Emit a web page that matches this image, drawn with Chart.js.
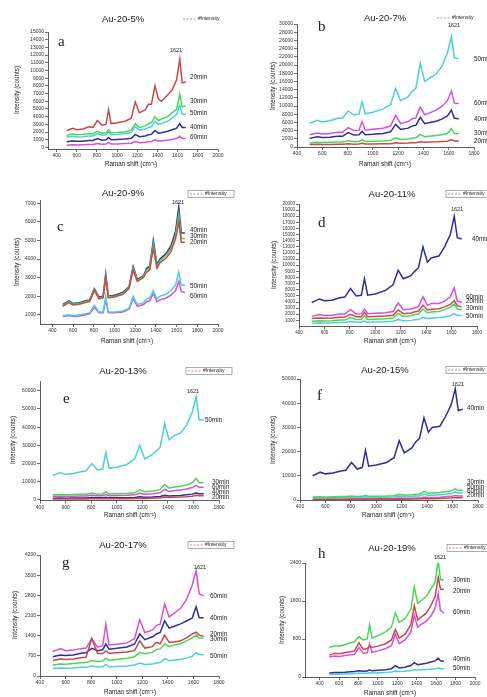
<!DOCTYPE html>
<html>
<head>
<meta charset="utf-8">
<script src="https://cdn.jsdelivr.net/npm/chart.js@4.4.1/dist/chart.umd.min.js"></script>
<style>
  body { margin: 0; background: #fff; }
  #page { position: relative; width: 487px; height: 697px; overflow: hidden; }
  #page canvas { position: absolute; }
</style>
</head>
<body>
<div id="page"></div>
<script>
// Raman shift positions shared by all spectra (cm-1)
const ramanShift = [500, 560, 600, 660, 720, 760, 805, 850, 890, 915, 940, 1000, 1080, 1140,
  1180, 1220, 1280, 1310, 1340, 1375, 1410, 1440, 1500, 1545, 1590, 1621, 1645, 1680];

const timeLabels = ["20min", "30min", "40min", "50min", "60min"];
const timeColors = ["#cc4848", "#48d858", "#2e2e9c", "#48d2da", "#d850d8"];

// a : Au-20-5%
const a20 = [2200,2500,2300,2400,2700,2600,3500,2900,3000,4900,3100,3200,3400,3800,5900,4500,4900,5600,5600,8000,6300,6000,6800,7500,8800,11500,8400,8500];
const a30 = [1600,1750,1650,1700,1780,1780,2100,1850,1900,2300,1900,1950,2050,2250,3100,2600,2800,3100,3200,4000,3500,3700,4000,4500,5000,6900,5300,5400];
const a40 = [750,850,800,820,900,900,1150,950,1000,1300,1000,1050,1100,1200,1700,1400,1500,1650,1700,2200,1850,1900,2100,2300,2500,3100,2600,2600];
const a50 = [1350,1450,1350,1400,1500,1500,1800,1600,1650,2100,1650,1700,1800,1950,2700,2250,2400,2600,2700,3400,3000,3100,3400,3800,4300,5500,4300,4300];
const a60 = [300,350,330,350,380,380,520,420,440,650,440,460,500,540,780,620,680,740,780,980,840,880,950,1050,1150,1450,1150,1150];

// b : Au-20-7%
const b20 = [600,650,620,640,660,660,800,700,720,900,720,740,780,820,1050,900,950,1020,1050,1300,1150,1200,1250,1350,1400,1800,1480,1470];
const b30 = [1050,1150,1100,1150,1200,1200,1550,1300,1350,1750,1350,1400,1450,1600,2250,1850,1950,2150,2250,3100,2500,2600,2800,3000,3300,4500,3300,3250];
const b40 = [2100,2500,2300,2400,2600,2600,3500,2900,3000,3800,3000,3100,3300,3700,5500,4300,4600,5100,5300,7200,5700,5900,6300,6800,7600,9000,7000,6900];
const b50 = [5800,6500,6100,6400,7000,7000,8800,7800,8000,11000,8100,8500,9300,10300,14300,11300,12300,13600,14300,20400,16000,16600,17800,19600,23000,27000,21800,21500];
const b60 = [3000,3400,3200,3300,3600,3600,4700,4000,4100,6200,4100,4300,4600,5100,7700,5700,6200,6900,7100,9700,7900,8200,9000,9900,11300,13700,10700,10600];

// c : Au-20-9%
const c20 = [1450,1650,1520,1560,1650,1700,2300,1850,1900,3000,1900,1950,2100,2400,3400,2800,3000,3300,3400,4600,3500,3800,4050,4400,5100,6000,4900,4900];
const c30 = [1500,1700,1560,1600,1700,1750,2350,1900,1950,3100,1950,2000,2150,2450,3500,2850,3050,3400,3500,4800,3600,3900,4200,4550,5300,6400,5100,5100];
const c40 = [1550,1750,1600,1650,1750,1800,2400,1950,2000,3200,2000,2050,2200,2500,3600,2900,3100,3500,3600,5000,3700,4000,4300,4700,5500,6800,5400,5400];
const c50 = [950,1000,950,1000,1050,1100,1500,1150,1150,2000,1150,1150,1200,1350,2000,1550,1650,1850,1900,2300,1850,2000,2100,2300,2600,3300,2600,2600];
const c60 = [900,950,900,930,1000,1050,1400,1100,1100,1800,1100,1100,1150,1300,1850,1450,1550,1700,1750,2150,1700,1800,1900,2050,2300,2800,2250,2200];

// d : Au-20-11%
const d20 = [1300,1400,1350,1400,1500,1500,2000,1600,1600,2300,1600,1650,1700,1850,2700,2100,2200,2400,2500,3500,2700,2800,2900,3200,3600,4200,3400,3200];
const d30 = [850,950,900,950,1050,1050,1450,1150,1150,1750,1150,1200,1250,1400,2150,1650,1750,1950,2050,2850,2250,2350,2450,2750,3150,3650,2850,2750];
const d40 = [3900,4500,4200,4300,4700,4800,6200,5000,5100,7800,5100,5300,5900,6800,9200,7800,8300,9000,9600,13000,10500,11200,11500,13000,15000,18000,14500,14300];
const d50 = [550,600,580,600,650,650,800,700,700,900,700,730,770,850,1150,950,1000,1100,1150,1450,1300,1350,1450,1600,1750,2100,1850,1800];
const d60 = [1650,1950,1800,1850,2050,2050,2750,2050,2100,2850,2100,2150,2250,2450,3850,2750,2850,3050,3250,4850,3450,3750,3750,4150,4850,6300,4150,3950];

// e : Au-20-13%
const e20 = [500,550,520,550,580,580,700,600,620,800,620,650,700,780,1000,850,950,1050,1100,1600,1350,1450,1600,1800,2100,2600,2300,2300];
const e30 = [2800,3000,2900,3000,3100,3100,3800,3200,3300,4500,3300,3400,3600,4000,5500,4500,4900,5200,5800,8500,6500,7000,7500,8200,9500,11800,9500,9500];
const e40 = [1000,1050,1000,1050,1100,1100,1300,1150,1150,1500,1150,1200,1250,1400,1800,1500,1650,1800,1900,2600,2200,2300,2500,2800,3200,3800,3400,3400];
const e50 = [13500,15000,14000,14500,15500,16000,20000,16500,17000,26000,17500,18000,19500,22500,30000,22500,25000,27000,29000,42000,33000,35000,37000,41000,48000,57000,44000,44000];
const e60 = [2000,2100,2050,2100,2200,2200,2700,2300,2350,3000,2350,2400,2550,2800,3700,3100,3400,3700,4100,5800,4700,5000,5500,6000,6800,8000,7000,7000];

// f : Au-20-15%
const f20 = [200,220,210,220,230,230,280,240,250,320,250,260,280,300,400,340,370,400,420,600,520,550,600,700,800,1000,900,900];
const f30 = [1200,1300,1250,1300,1400,1400,1700,1450,1500,1900,1500,1550,1650,1800,2400,2000,2200,2400,2500,3500,2800,2900,3100,3400,3800,4600,4000,4000];
const f40 = [10000,11500,10800,11200,12000,12300,15500,12800,13500,20500,14000,14500,15500,17500,24500,19500,21500,24000,25500,34000,28000,30000,30500,34500,39500,46000,37000,37500];
const f50 = [900,950,920,950,1000,1000,1200,1050,1050,1350,1050,1100,1150,1250,1650,1400,1500,1650,1700,2400,1950,2000,2200,2400,2700,3300,2900,2900];
const f60 = [400,430,420,430,460,460,550,480,490,650,490,510,540,600,800,680,740,800,850,1150,1000,1050,1150,1300,1500,1900,1700,1700];

// g : Au-20-17%
const g20 = [540,590,570,590,630,650,1300,780,780,870,790,810,830,880,1220,970,1020,1170,1120,1420,1170,1170,1220,1320,1460,1520,1420,1370];
const g30 = [380,420,410,430,460,470,540,500,520,620,540,570,620,670,820,770,820,920,940,1120,1020,1070,1120,1220,1320,1420,1320,1310];
const g40 = [670,730,710,730,790,810,960,880,910,1110,930,960,1010,1110,1460,1260,1360,1460,1510,1910,1660,1710,1810,1910,2010,2400,2020,2020];
const g50 = [260,280,270,280,300,300,350,310,320,400,320,330,350,380,450,400,420,450,470,600,530,550,580,620,680,800,750,740];
const g60 = [850,950,880,900,950,970,1300,1000,1050,1800,1080,1100,1150,1300,1950,1500,1600,1750,1800,2500,2050,2150,2350,2650,3150,3650,2850,2780];

// h : Au-20-19%
const h20 = [460,500,490,510,530,550,720,580,600,650,620,650,700,780,1000,820,900,1000,1100,1500,1200,1250,1350,1500,1700,2100,1850,1850];
const h30 = [620,660,650,680,720,740,850,780,800,1100,820,870,950,1050,1350,1150,1230,1330,1420,1900,1550,1600,1700,1850,2000,2450,2050,2050];
const h40 = [85,95,95,100,110,115,130,120,125,150,130,140,155,175,240,190,205,225,240,300,260,270,290,315,340,400,340,330];
const h50 = [55,60,60,65,70,72,80,78,80,90,84,88,95,105,125,115,122,130,138,155,148,152,160,168,175,190,175,172];
const h60 = [420,440,430,450,470,480,620,500,510,700,520,550,600,660,900,700,780,860,950,1300,1050,1100,1180,1280,1450,1750,1400,1350];

// tick labels
const xTicksTo2000 = [400, 600, 800, 1000, 1200, 1400, 1600, 1800, 2000];
const xTicksTo1800 = [400, 600, 800, 1000, 1200, 1400, 1600, 1800];
const yTicksA = [0,1000,2000,3000,4000,5000,6000,7000,8000,9000,10000,11000,12000,13000,14000,15000];
const yTicksB = [0,2000,4000,6000,8000,10000,12000,14000,16000,18000,20000,22000,24000,26000,28000,30000];
const yTicksC = [1000,2000,3000,4000,5000,6000,7000];
const yTicksD = [1000,2000,3000,4000,5000,6000,7000,8000,9000,10000,11000,12000,13000,14000,15000,16000,17000,18000,19000,20000];
const yTicksE = [0,10000,20000,30000,40000,50000,60000];
const yTicksF = [0,10000,20000,30000,40000,50000];
const yTicksG = [0,700,1400,2100,2800,3500,4200];
const yTicksH = [0,800,1600,2400];

const sans = '"Liberation Sans", Arial, sans-serif';

// page layout: cell = [left, top, width, height], area = [left, top, right, bottom]
// tags follow the order of timeLabels
const panels = [
  { title: "Au-20-5%", letter: "a", cell: [0, 0, 245, 170], area: [48, 32, 218, 149],
    xr: [315, 2000], yr: [-200, 15000], xt: xTicksTo2000, yt: yTicksA, tick: 5,
    series: [a20, a30, a40, a50, a60],
    tags: [[190, 77], [190, 101], [190, 127], [190, 113], [190, 137]],
    peak: [176, 50], letterAt: [58, 42], titleAt: [123, 19], legendAt: [183, 19], box: false,
    yTitleAt: [17, 90], xTitleAt: [131, 164] },
  { title: "Au-20-7%", letter: "b", cell: [245, 0, 242, 170], area: [297, 24, 474, 147],
    xr: [400, 1800], yr: [0, 30000], xt: xTicksTo1800, yt: yTicksB, tick: 5,
    series: [b20, b30, b40, b50, b60],
    tags: [[474, 141], [474, 133], [474, 119], [474, 59], [474, 103]],
    peak: [454, 25], letterAt: [318, 27], titleAt: [385, 18], legendAt: [437, 18], box: false,
    yTitleAt: [273, 86], xTitleAt: [385, 164] },
  { title: "Au-20-9%", letter: "c", cell: [0, 170, 245, 175], area: [40, 200.5, 218, 324],
    xr: [280, 2000], yr: [500, 7150], xt: xTicksTo2000, yt: yTicksC, tick: 5,
    series: [c20, c30, c40, c50, c60],
    tags: [[190, 242], [190, 236], [190, 230], [190, 286], [190, 296]],
    peak: [178, 202], letterAt: [57, 227], titleAt: [123, 193], legendAt: [190, 194], box: true,
    yTitleAt: [17, 262], xTitleAt: [127, 341] },
  { title: "Au-20-11%", letter: "d", cell: [245, 170, 242, 175], area: [299, 204, 477, 326.5],
    xr: [400, 1800], yr: [0, 20000], xt: xTicksTo1800, yt: yTicksD, tick: 4.5,
    series: [d20, d30, d40, d50, d60],
    tags: [[466, 301], [466, 308], [472, 239], [466, 316], [466, 297]],
    peak: [457, 209], letterAt: [318, 223], titleAt: [392, 194], legendAt: [448, 194], box: true,
    yTitleAt: [274, 265], xTitleAt: [390, 341] },
  { title: "Au-20-13%", letter: "e", cell: [0, 345, 245, 175], area: [40, 381.7, 219, 500.5],
    xr: [400, 1800], yr: [-300, 65000], xt: xTicksTo1800, yt: yTicksE, tick: 5,
    series: [e20, e30, e40, e50, e60],
    tags: [[212, 497], [212, 482], [212, 492], [205, 420], [212, 487]],
    peak: [193, 391], letterAt: [63, 399], titleAt: [123, 371], legendAt: [188, 371], box: true,
    yTitleAt: [13, 440], xTitleAt: [130, 515] },
  { title: "Au-20-15%", letter: "f", cell: [245, 345, 242, 175], area: [300, 379, 478, 500],
    xr: [400, 1800], yr: [0, 50000], xt: xTicksTo1800, yt: yTicksF, tick: 5,
    series: [f20, f30, f40, f50, f60],
    tags: [[467, 495], [467, 482], [467, 408], [467, 487], [467, 491]],
    peak: [458, 384], letterAt: [317, 396], titleAt: [385, 370], legendAt: [448, 370], box: true,
    yTitleAt: [273, 440], xTitleAt: [388, 515] },
  { title: "Au-20-17%", letter: "g", cell: [0, 520, 245, 177], area: [40, 555, 219, 676],
    xr: [400, 1800], yr: [0, 4200], xt: xTicksTo1800, yt: yTicksG, tick: 5,
    series: [g20, g30, g40, g50, g60],
    tags: [[210, 634], [210, 639], [210, 618], [210, 656], [210, 596]],
    peak: [200, 567], letterAt: [62, 563], titleAt: [123, 545], legendAt: [190, 545], box: true,
    yTitleAt: [15, 615], xTitleAt: [130, 692] },
  { title: "Au-20-19%", letter: "h", cell: [245, 520, 242, 177], area: [305, 563, 475, 677],
    xr: [250, 2000], yr: [0, 2400], xt: xTicksTo2000, yt: yTicksH, tick: 5,
    series: [h20, h30, h40, h50, h60],
    tags: [[453, 591], [453, 580], [453, 659], [453, 668], [453, 612]],
    peak: [440, 557], letterAt: [318, 554], titleAt: [392, 548], legendAt: [449, 548], box: true,
    yTitleAt: [282, 620], xTitleAt: [390, 693] }
];

// titles, letters, legend and labels drawn on top of each panel
const panelText = {
  id: "panelText",
  afterDraw(chart, args, o) {
    const ctx = chart.ctx;
    const dx = o.cell[0], dy = o.cell[1];
    ctx.save();
    ctx.fillStyle = "#222";
    ctx.textBaseline = "middle";

    ctx.font = "9.5px " + sans;
    ctx.textAlign = "center";
    ctx.fillText(o.title, o.titleAt[0] - dx, o.titleAt[1] - dy);

    ctx.font = "15px 'Liberation Serif', 'Times New Roman', serif";
    ctx.textAlign = "left";
    ctx.fillText(o.letter, o.letterAt[0] - dx, o.letterAt[1] - dy);

    ctx.font = "5.5px " + sans;
    ctx.textAlign = "center";
    ctx.fillText("1621", o.peak[0] - dx, o.peak[1] - dy);

    ctx.font = "6.3px " + sans;
    ctx.textAlign = "left";
    o.tags.forEach((t, k) => ctx.fillText(timeLabels[k], t[0] - dx, t[1] - dy));

    // axis titles
    ctx.textAlign = "center";
    ctx.fillText("Raman shift (cm\u207B\u00B9)", o.xTitleAt[0] - dx, o.xTitleAt[1] - dy);
    ctx.save();
    ctx.translate(o.yTitleAt[0] - dx, o.yTitleAt[1] - dy);
    ctx.rotate(-Math.PI / 2);
    ctx.fillText("Intensity (counts)", 0, 0);
    ctx.restore();

    // legend
    const lx = o.legendAt[0] - dx, ly = o.legendAt[1] - dy;
    if (o.box) {
      ctx.strokeStyle = "#777";
      ctx.lineWidth = 0.6;
      ctx.strokeRect(lx - 2, ly - 3.5, 46, 7);
    }
    ctx.strokeStyle = "#c86a6a";
    ctx.lineWidth = 0.8;
    ctx.setLineDash([2, 1.5]);
    ctx.beginPath();
    ctx.moveTo(lx, ly);
    ctx.lineTo(lx + 14, ly);
    ctx.stroke();
    ctx.setLineDash([]);
    ctx.font = "5px " + sans;
    ctx.textAlign = "left";
    ctx.fillText("#Intensity", lx + 15, ly);
    ctx.restore();
  }
};

const page = document.getElementById("page");

panels.forEach(p => {
  const [cl, ct, cw, ch] = p.cell;
  const [al, at, ar, ab] = p.area;
  const canvas = document.createElement("canvas");
  canvas.width = cw;
  canvas.height = ch;
  canvas.style.left = cl + "px";
  canvas.style.top = ct + "px";
  page.appendChild(canvas);

  const axisStyle = {
    grid: { drawOnChartArea: false, tickLength: 3, color: "#333", lineWidth: 0.7 },
    border: { color: "#333", width: 0.8 },
    ticks: { autoSkip: false, maxRotation: 0, padding: 1, color: "#333",
             font: { size: p.tick, family: sans }, callback: v => String(v) }
  };

  new Chart(canvas, {
    type: "line",
    data: {
      datasets: p.series.map((s, k) => ({
        label: timeLabels[k],
        data: ramanShift.map((x, i) => ({ x: x, y: s[i] })),
        borderColor: timeColors[k],
        borderWidth: 1.5,
        pointRadius: 0,
        tension: 0,
        fill: false
      }))
    },
    options: {
      responsive: false,
      animation: false,
      events: [],
      layout: { padding: { top: at - ct, right: cl + cw - ar, left: 0, bottom: 0 } },
      plugins: {
        legend: { display: false },
        tooltip: { enabled: false },
        panelText: p
      },
      scales: {
        x: Object.assign({}, axisStyle, {
          type: "linear", min: p.xr[0], max: p.xr[1],
          afterBuildTicks: s => { s.ticks = p.xt.map(v => ({ value: v })); },
          afterFit: s => { s.height = ct + ch - ab; }
        }),
        y: Object.assign({}, axisStyle, {
          min: p.yr[0], max: p.yr[1],
          afterBuildTicks: s => { s.ticks = p.yt.map(v => ({ value: v })); },
          afterFit: s => { s.width = al - cl; }
        })
      }
    },
    plugins: [panelText]
  });
});
</script>
</body>
</html>
